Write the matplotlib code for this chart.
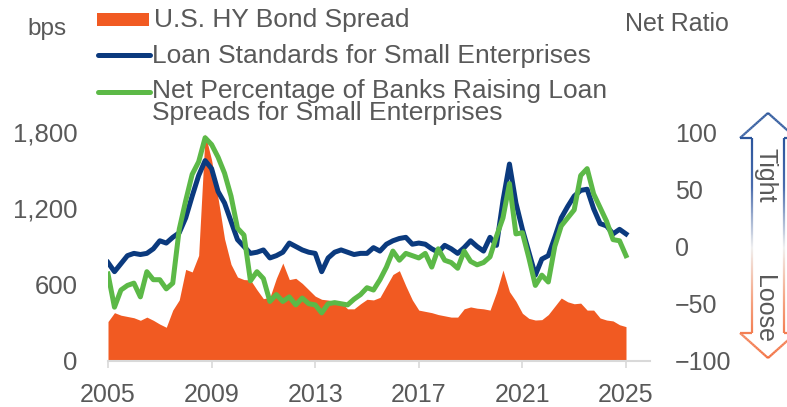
import numpy as np
import pandas as pd
import matplotlib
matplotlib.use("Agg")
import matplotlib.pyplot as plt
from matplotlib.collections import LineCollection
from matplotlib.colors import LinearSegmentedColormap
from matplotlib.patches import Rectangle
from matplotlib.lines import Line2D

plt.rcParams["font.family"] = ["Liberation Sans", "DejaVu Sans"]

# quarterly data, 2005Q1 .. 2025Q1
quarters = pd.period_range("2005Q1", "2025Q1", freq="Q")

hy_spread = [310, 380, 360, 350, 340, 320, 345, 320, 290, 265,
             400, 480, 720, 700, 830, 1785, 1580, 1280, 960, 760,
             660, 640, 637, 560, 490, 500, 650, 770, 640, 650,
             610, 560, 510, 485, 479, 470, 460, 410, 410, 450,
             485, 480, 500, 590, 680, 710, 590, 480, 400, 390,
             380, 365, 355, 345, 345, 410, 425, 415, 410, 400,
             540, 715, 545, 470, 375, 335, 322, 325, 365, 430,
             495, 465, 450, 455, 400, 400, 338, 322, 315, 285,
             270]

loan_standards = [-14, -22, -15, -8, -6, -7, -6, -2, 5, 3,
                  8, 12, 25, 44, 62, 75, 68, 48, 38, 22,
                  6, 0, -6, -5, -3, -10, -8, -5, 3, 0,
                  -3, -5, -6, -22, -10, -5, -3, -5, -7, -6,
                  -6, -1, -4, 2, 5, 7, 8, 2, 3, 2,
                  -2, -5, 1, -2, -6, -1, 5, 0, -4, 8,
                  1, 40, 72, 38, 15, -5, -25, -11, -8, 8,
                  25, 35, 44, 49, 50, 33, 20, 18, 11, 15,
                  11]

raising_spreads = [-24, -53, -38, -34, -32, -44, -22, -29, -29, -37,
                   -32, 15, 40, 63, 74, 95, 89, 78, 64, 44,
                   16, 10, -30, -22, -28, -48, -42, -48, -44, -51,
                   -45, -50, -51, -58, -50, -49, -50, -51, -46, -42,
                   -36, -38, -29, -18, -4, -12, -6, -8, -10, -6,
                   -18, -2, -12, -14, -19, -4, -13, -16, -14, -9,
                   9, 25, 55, 11, 12, -10, -34, -25, -31, 0,
                   18, 25, 32, 62, 68, 46, 34, 22, 6, 5,
                   -8]

year_ticks = [2005, 2009, 2013, 2017, 2021, 2025]
left_ticks = [0, 600, 1200, 1800]
right_ticks = [-100, -50, 0, 50, 100]

C_HY, C_STD, C_NET = "#f15a22", "#0b3a7e", "#5cb947"
C_TXT, C_AX = "#595959", "#d9d9d9"

x = np.array([q.year + (q.quarter - 1) / 4 for q in quarters])

W, H = 787, 407
fig = plt.figure(figsize=(W / 100, H / 100), dpi=100)

def fx(px):
    return px / W

def fy(py):
    return 1 - py / H

ax = fig.add_axes([fx(108), fy(361), fx(650) - fx(108), fy(132) - fy(361)])
ax2 = ax.twinx()

ax.fill_between(x, 0, hy_spread, color=C_HY, lw=0)
ax2.plot(x, loan_standards, color=C_STD, lw=3.6, solid_joinstyle="round")
ax2.plot(x, raising_spreads, color=C_NET, lw=3.6, solid_joinstyle="round")

ax.set_xlim(2005, 2005 + 542 / 25.9)
ax.set_ylim(0, 1800)
ax2.set_ylim(-100, 100)

ax.set_xticks(year_ticks)
ax.set_xticklabels([str(y) for y in year_ticks])
ax.set_yticks(left_ticks)
ax.set_yticklabels([f"{v:,}" for v in left_ticks])
ax2.set_yticks(right_ticks)

for a in (ax, ax2):
    for s in a.spines.values():
        s.set_visible(False)
ax.spines["bottom"].set_visible(True)
ax.spines["bottom"].set_color(C_AX)
ax.spines["bottom"].set_linewidth(1.5)

ax.tick_params(axis="x", colors=C_AX, labelcolor=C_TXT, labelsize=18,
               length=5, width=1.2, pad=11)
ax.tick_params(axis="y", length=0, labelcolor=C_TXT, labelsize=18.5, pad=22)
ax2.tick_params(axis="y", length=0, labelcolor=C_TXT, labelsize=18, pad=18)

# axis titles
fig.text(fx(47), fy(29), "bps", ha="center", va="center", fontsize=17.5, color=C_TXT)
fig.text(fx(677), fy(24), "Net Ratio", ha="center", va="center", fontsize=18, color=C_TXT)

# legend drawn by hand
fig.add_artist(Rectangle((fx(97), fy(26)), fx(149) - fx(97), fy(13) - fy(26),
                         transform=fig.transFigure, color=C_HY, lw=0))
fig.add_artist(Line2D([fx(98), fx(150)], [fy(55), fy(55)], transform=fig.transFigure,
                      color=C_STD, lw=3.6, solid_capstyle="round"))
fig.add_artist(Line2D([fx(98), fx(150)], [fy(92), fy(92)], transform=fig.transFigure,
                      color=C_NET, lw=3.6, solid_capstyle="round"))
fig.text(fx(154), fy(20), "U.S. HY Bond Spread", va="center", fontsize=19, color=C_TXT)
fig.text(fx(152), fy(56), "Loan Standards for Small Enterprises", va="center",
         fontsize=19, color=C_TXT)
fig.text(fx(152), fy(102), "Net Percentage of Banks Raising Loan\nSpreads for Small Enterprises",
         va="center", fontsize=19, color=C_TXT, linespacing=0.9)

# tight / loose double arrow with gradient outline
cx, top, bot = 768, 113, 358
hw, sw, hl = 28, 16, 25
outline = [(cx, top), (cx + hw, top + hl), (cx + sw, top + hl), (cx + sw, bot - hl),
           (cx + hw, bot - hl), (cx, bot), (cx - hw, bot - hl), (cx - sw, bot - hl),
           (cx - sw, top + hl), (cx - hw, top + hl), (cx, top)]
pts = []
for (x0, y0), (x1, y1) in zip(outline[:-1], outline[1:]):
    n = max(2, int(np.hypot(x1 - x0, y1 - y0)))
    for t in np.linspace(0, 1, n, endpoint=False):
        pts.append((x0 + (x1 - x0) * t, y0 + (y1 - y0) * t))
pts.append(outline[-1])
pts = np.array(pts)
segs = [[(fx(a[0]), fy(a[1])), (fx(b[0]), fy(b[1]))] for a, b in zip(pts[:-1], pts[1:])]
mid_y = (pts[:-1, 1] + pts[1:, 1]) / 2
cmap = LinearSegmentedColormap.from_list(
    "tl", [(0, "#1c4a94"), (0.3, "#4a6cad"), (0.55, "#f0f0f0"), (0.75, "#f5a888"), (1, "#f2622e")])
lc = LineCollection(segs, colors=cmap((mid_y - top) / (bot - top)), linewidths=1.6,
                    transform=fig.transFigure)
fig.add_artist(lc)
fig.text(fx(765), fy(175), "Tight", rotation=270, ha="center", va="center",
         fontsize=18, color=C_TXT)
fig.text(fx(764), fy(309), "Loose", rotation=270, ha="center", va="center",
         fontsize=18, color=C_TXT)

fig.savefig("out.png", dpi=100)
